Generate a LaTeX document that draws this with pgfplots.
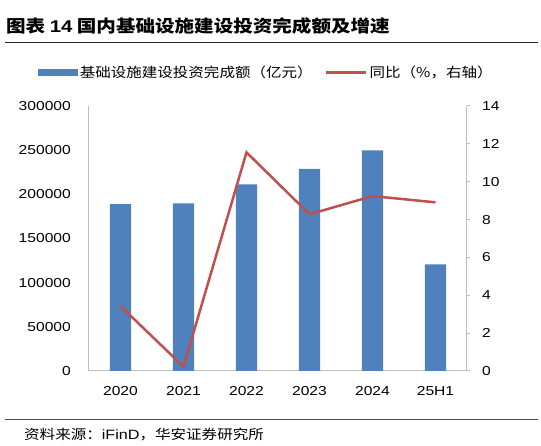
\documentclass[border=0pt]{standalone}
\usepackage{pgfplots}
\pgfplotsset{compat=1.18}
\usepackage{fontspec}
\setmainfont[FakeStretch=1.2]{Liberation Sans}
\newfontfamily\cjk[FakeStretch=1.15]{Noto Sans CJK SC}
\definecolor{barblue}{RGB}{79,129,189}
\definecolor{linered}{RGB}{192,80,77}
\definecolor{axisgray}{RGB}{190,190,190}
\begin{document}
\begin{tikzpicture}
\path[use as bounding box] (0,0) rectangle (541pt,446pt);
\node[anchor=base west, inner sep=0pt, font=\cjk\bfseries\fontsize{17}{17}\selectfont] at (6pt,413pt) {图表 {\normalfont\bfseries\fontsize{17}{17}\selectfont 14} 国内基础设施建设投资完成额及增速};
\draw[black!85, line width=0.8pt] (5pt,404pt) -- (538pt,404pt);
\draw[black!70, line width=0.8pt] (5pt,27pt) -- (538pt,27pt);
\node[anchor=west, inner sep=0pt, font=\cjk\fontsize{13.5}{13.5}\selectfont] at (24pt,11pt) {资料来源：{\normalfont\fontsize{13.5}{13.5}\selectfont iFinD}，华安证券研究所};

\begin{axis}[
  at={(89pt,75pt)}, anchor=south west, scale only axis,
  width=378pt, height=265pt,
  xmin=-0.5, xmax=5.5, ymin=0, ymax=300000,
  axis x line*=bottom, axis y line*=left,
  axis line style={-, draw=axisgray, line width=1pt},
  xtick={0,1,2,3,4,5}, xticklabels={2020,2021,2022,2023,2024,25H1},
  ytick={0,50000,100000,150000,200000,250000,300000},
  yticklabels={0,50000,100000,150000,200000,250000,300000},
  major tick length=0pt,
  scaled y ticks=false,
  ticklabel style={font=\fontsize{13}{13}\selectfont, inner sep=0pt},
  yticklabel style={anchor=east, xshift=-18pt},
  xticklabel style={anchor=north, yshift=-15.4pt},
  legend style={at={(-0.136,1.128)}, anchor=west, draw=none, fill=none, inner sep=0pt,
    font=\cjk\fontsize{13.5}{13.5}\selectfont,
    /tikz/every even column/.append style={column sep=10pt}},
  legend columns=2, legend cell align=left,
]
\addplot[ybar, bar width=21.3pt, fill=barblue, draw=none,
  legend image code/.code={\fill[barblue] (0pt,-3.5pt) rectangle (40pt,3.5pt);}]
  coordinates {(0,189000)(1,189800)(2,211400)(3,228700)(4,249800)(5,120800)};
\addlegendentry{基础设施建设投资完成额（亿元）}
\addlegendimage{linered, line width=3pt, legend image code/.code={\draw[linered, line width=3pt] (0pt,0pt) -- (40pt,0pt);}}
\addlegendentry{同比（\%，右轴）}
\end{axis}

\begin{axis}[
  at={(89pt,75pt)}, anchor=south west, scale only axis,
  width=378pt, height=265pt,
  xmin=-0.5, xmax=5.5, ymin=0, ymax=14,
  axis x line=none, axis y line*=right,
  axis line style={-, draw=axisgray, line width=1pt},
  ytick={0,2,4,6,8,10,12,14},
  yticklabels={0,2,4,6,8,10,12,14},
  tick align=outside, major tick length=3pt,
  tick style={draw=axisgray, line width=1pt},
  yticklabel style={font=\fontsize{13}{13}\selectfont, inner sep=0pt, anchor=west, xshift=12pt},
]
\addplot[linered, line width=2.5pt, mark=none]
  coordinates {(0,3.43)(1,0.23)(2,11.55)(3,8.28)(4,9.24)(5,8.91)};
\end{axis}
\end{tikzpicture}
\end{document}
